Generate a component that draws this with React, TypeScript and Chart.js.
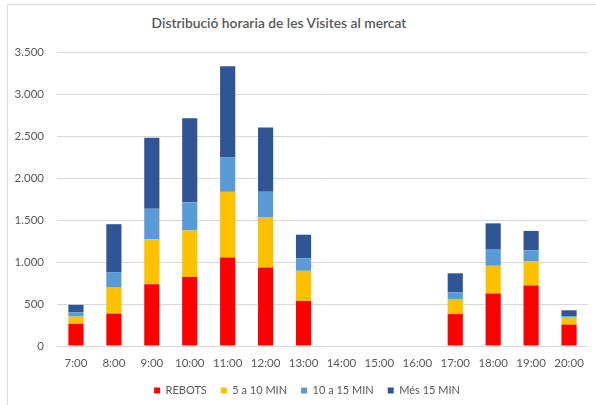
import React, { useEffect, useRef } from "react";
import { Chart, registerables } from "chart.js";

Chart.register(...registerables);

const hours = ["7:00", "8:00", "9:00", "10:00", "11:00", "12:00", "13:00", "14:00", "15:00", "16:00", "17:00", "18:00", "19:00", "20:00"];
const rebots = [265, 385, 735, 820, 1055, 935, 535, 0, 0, 0, 380, 625, 720, 255];
const min5a10 = [85, 310, 535, 555, 780, 600, 360, 0, 0, 0, 180, 330, 285, 90];
const min10a15 = [50, 185, 365, 335, 410, 300, 150, 0, 0, 0, 80, 200, 135, 10];
const mes15 = [90, 570, 845, 1000, 1085, 765, 280, 0, 0, 0, 225, 305, 230, 70];

const seriesNames = ["REBOTS", "5 a 10 MIN", "10 a 15 MIN", "Més 15 MIN"];
const seriesColors = ["#FF0000", "#FFC000", "#5B9BD5", "#2F5597"];
const titleText = "Distribució horaria de les Visites al mercat";

const FONT = "Lato, 'Open Sans', sans-serif";
const GREY = "#595959";

const shiftLegend = {
  id: "shiftLegend",
  afterLayout(chart: any) {
    const lg = chart.legend;
    if (lg) {
      lg.left += 13;
      lg.right += 13;
      lg.top += 2;
      lg.bottom += 2;
    }
  },
};

export default function App() {
  const ref = useRef<HTMLCanvasElement | null>(null);

  useEffect(() => {
    document.body.style.margin = "0";
    const ctx = ref.current!;
    const values = [rebots, min5a10, min10a15, mes15];
    const chart = new Chart(ctx, {
      type: "bar",
      data: {
        labels: hours,
        datasets: values.map((v, i) => ({
          label: seriesNames[i],
          data: v,
          backgroundColor: seriesColors[i],
          borderWidth: 0,
          categoryPercentage: 1,
          barPercentage: 0.4,
        })),
      },
      plugins: [shiftLegend],
      options: {
        animation: false,
        responsive: false,
        maintainAspectRatio: false,
        layout: { padding: { left: 0, right: 8, top: 52, bottom: 1 } },
        plugins: {
          title: { display: false },
          tooltip: { enabled: false },
          legend: {
            position: "bottom",
            labels: {
              boxWidth: 6,
              boxHeight: 6,
              padding: 14,
              color: GREY,
              font: { family: FONT, size: 11 },
            },
          },
        },
        scales: {
          x: {
            stacked: true,
            grid: { display: false, drawTicks: false },
            border: { display: false },
            ticks: { color: GREY, font: { family: FONT, size: 11.5 }, padding: 10, maxRotation: 0, autoSkip: false },
            afterFit: (s: any) => { s.height = 23; },
          },
          y: {
            stacked: true,
            min: 0,
            max: 3500,
            grid: { color: "#D9D9D9", lineWidth: 1, drawTicks: false },
            border: { display: false },
            ticks: {
              stepSize: 500,
              color: GREY,
              padding: 13,
              font: { family: FONT, size: 11.5 },
              callback: (v: any) => Number(v).toLocaleString("de-DE"),
            },
            afterFit: (s: any) => { s.width = 57; },
          },
        },
      },
    });
    return () => chart.destroy();
  }, []);

  return (
    <div style={{ position: "absolute", left: 0, top: 0, width: 596, height: 405, background: "#fff", overflow: "hidden" }}>
      <div style={{ position: "absolute", left: 7, top: 4, width: 620, height: 420, borderLeft: "1px solid #D9D9D9", borderTop: "1px solid #D9D9D9" }} />
      <div style={{ position: "absolute", left: 79, top: 14, width: 400, textAlign: "center", fontFamily: FONT, fontSize: 13.8, fontWeight: 600, color: GREY, lineHeight: "18px" }}>
        {titleText}
      </div>
      <canvas ref={ref} width={596} height={405} style={{ position: "absolute", left: 0, top: 0 }} />
    </div>
  );
}
